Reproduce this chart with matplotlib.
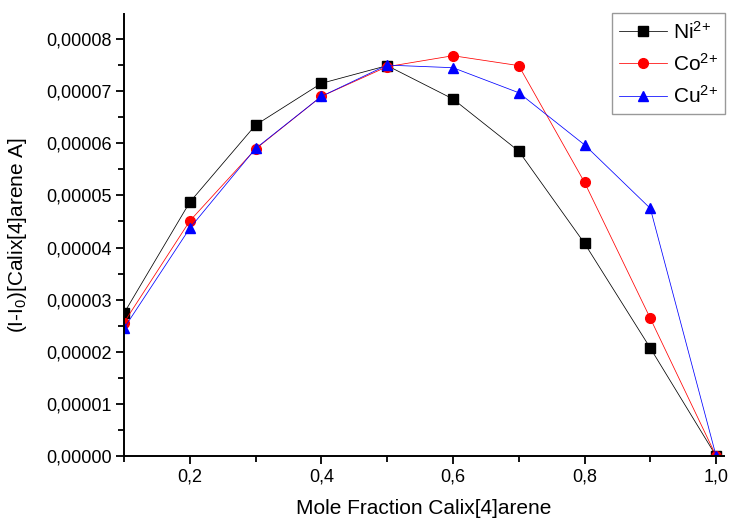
import numpy as np
import matplotlib
matplotlib.use("Agg")
import matplotlib.pyplot as plt
from matplotlib.ticker import FuncFormatter, MultipleLocator

plt.rcParams['font.family'] = ['Liberation Sans', 'DejaVu Sans']
plt.rcParams['mathtext.fontset'] = 'custom'
plt.rcParams['mathtext.rm'] = 'Liberation Sans'
plt.rcParams['mathtext.it'] = 'Liberation Sans:italic'

# Job plot data: mole fraction vs current difference
mole_fraction = [0.1, 0.2, 0.3, 0.4, 0.5, 0.6, 0.7, 0.8, 0.9, 1.0]
ni = [2.74e-5, 4.87e-5, 6.35e-5, 7.15e-5, 7.49e-5, 6.85e-5, 5.85e-5, 4.08e-5, 2.07e-5, 0.0]
co = [2.56e-5, 4.51e-5, 5.89e-5, 6.90e-5, 7.47e-5, 7.68e-5, 7.49e-5, 5.25e-5, 2.64e-5, 0.0]
cu = [2.45e-5, 4.37e-5, 5.90e-5, 6.90e-5, 7.50e-5, 7.45e-5, 6.97e-5, 5.97e-5, 4.75e-5, 0.0]


def comma_fmt(decimals):
    return FuncFormatter(lambda v, pos: f"{v:.{decimals}f}".replace('.', ','))


fig = plt.figure(figsize=(7.32, 5.25), dpi=100)
ax = fig.add_axes([0.1694, 0.1314, 0.8197, 0.8419])

ax.plot(mole_fraction, ni, color='black', lw=0.55, marker='s', ms=6.5,
        mec='black', mfc='black', label='Ni$^{2{+}}$')
ax.plot(mole_fraction, co, color='red', lw=0.55, marker='o', ms=7,
        mec='red', mfc='red', label='Co$^{2{+}}$')
ax.plot(mole_fraction, cu, color='blue', lw=0.55, marker='^', ms=7.5,
        mec='blue', mfc='blue', label='Cu$^{2{+}}$')

ax.set_xlim(0.1, 1.012)
ax.set_ylim(0, 8.48e-5)

ax.xaxis.set_major_locator(MultipleLocator(0.2))
ax.xaxis.set_minor_locator(MultipleLocator(0.1))
ax.yaxis.set_major_locator(MultipleLocator(1e-5))
ax.yaxis.set_minor_locator(MultipleLocator(5e-6))
ax.xaxis.set_major_formatter(comma_fmt(1))
ax.yaxis.set_major_formatter(comma_fmt(5))

for side in ('top', 'right'):
    ax.spines[side].set_visible(False)
for side in ('left', 'bottom'):
    ax.spines[side].set_linewidth(1.4)

ax.tick_params(which='major', direction='out', length=6, width=1.3,
               labelsize=13, pad=3)
ax.tick_params(which='minor', direction='out', length=4, width=1.3)

ax.set_xlabel('Mole Fraction Calix[4]arene', fontsize=15, labelpad=10)
ax.set_ylabel('(I-I$_0$)[Calix[4]arene A]', fontsize=15, labelpad=12)

leg = ax.legend(loc='upper right', bbox_to_anchor=(1.002, 1.002), borderaxespad=0,
                fontsize=15, frameon=True, fancybox=False, handlelength=2.3,
                handletextpad=0.3, labelspacing=0.5, borderpad=0.35)
leg.get_frame().set_edgecolor('#808080')
leg.get_frame().set_linewidth(1.0)

fig.savefig('out.png', dpi=100)
